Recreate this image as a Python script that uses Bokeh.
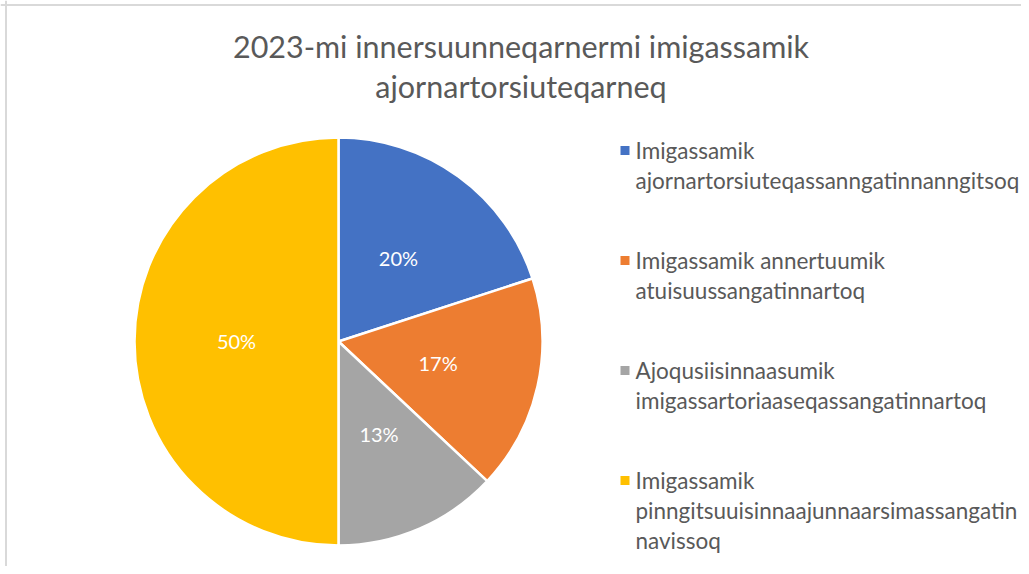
import numpy as np
from bokeh.plotting import figure
from bokeh.models import Range1d, ColumnDataSource, Span
from bokeh.core.properties import value
from bokeh.embed import file_html
from bokeh.resources import INLINE

# ---------------- data ----------------
title_lines = ["2023-mi innersuunneqarnermi imigassamik", "ajornartorsiuteqarneq"]
categories = [
    ["Imigassamik", "ajornartorsiuteqassanngatinnanngitsoq"],
    ["Imigassamik annertuumik", "atuisuussangatinnartoq"],
    ["Ajoqusiisinnaasumik", "imigassartoriaaseqassangatinnartoq"],
    ["Imigassamik", "pinngitsuuisinnaajunnaarsimassangatin", "navissoq"],
]
shares = [20, 17, 13, 50]
pct_labels = ["20%", "17%", "13%", "50%"]
colors = ["#4472C4", "#ED7D31", "#A5A5A5", "#FFC000"]

# ---------------- layout (pixel-like data space) ----------------
W, H = 1021, 566
FONT = "Lato"
TXT = "#595959"

def Y(img_y):
    return H - img_y

p = figure(width=W, height=H, output_backend="svg", toolbar_location=None,
           x_range=Range1d(0, W), y_range=Range1d(0, H),
           min_border=0, tools="")
p.axis.visible = False
p.grid.visible = False
p.outline_line_color = None
p.background_fill_color = "white"
p.border_fill_color = "white"

# chart border (light gray, top & left visible as in reference)
p.add_layout(Span(location=5.5, dimension="height", line_color="#d9d9d9", line_width=2))
p.add_layout(Span(location=Y(4.5), dimension="width", line_color="#d9d9d9", line_width=2))

# ---------------- pie ----------------
cx, cy, R = 338, Y(341), 204
vals = np.array(shares, dtype=float)
frac = vals / vals.sum()
ends_cum = np.cumsum(frac)
starts_cum = ends_cum - frac
start_ang = np.pi / 2 - starts_cum * 2 * np.pi
end_ang = np.pi / 2 - ends_cum * 2 * np.pi
mid_ang = (start_ang + end_ang) / 2

src = ColumnDataSource(dict(start=start_ang, end=end_ang, color=colors,
                            lx=cx + 0.5 * R * np.cos(mid_ang),
                            ly=cy + 0.5 * R * np.sin(mid_ang) + 1,
                            lab=pct_labels))
p.wedge(x=cx, y=cy, radius=R, start_angle="start", end_angle="end",
        direction="clock", fill_color="color", line_color="white",
        line_width=2.5, source=src)
p.text(x="lx", y="ly", text="lab", source=src, text_color="white",
       text_font=value(FONT), text_font_size="20px",
       text_align="center", text_baseline="middle")

# ---------------- title ----------------
tx = [520.5] * len(title_lines)
ty = [Y(45), Y(85)]
p.text(x=tx, y=ty, text=title_lines, text_color=TXT, text_font=value(FONT),
       text_font_size="30.5px", text_align="center", text_baseline="middle")

# ---------------- legend ----------------
line_h, item_gap = 30, 50
base = 150
mx, my, lxs, lys, ltx = [], [], [], [], []
for i, lines in enumerate(categories):
    mx.append(624.5)
    my.append(Y(base))
    for j, t in enumerate(lines):
        lxs.append(635)
        lys.append(Y(base + j * line_h))
        ltx.append(t)
    base += min(len(lines), 2) * line_h + item_gap
p.scatter(x=mx, y=my, marker="square", size=9, fill_color=colors, line_color=None)
p.text(x=lxs, y=lys, text=ltx, text_color=TXT, text_font=value(FONT),
       text_font_size="22.5px", text_align="left", text_baseline="middle")

open("out.html", "w").write(file_html(p, INLINE))
